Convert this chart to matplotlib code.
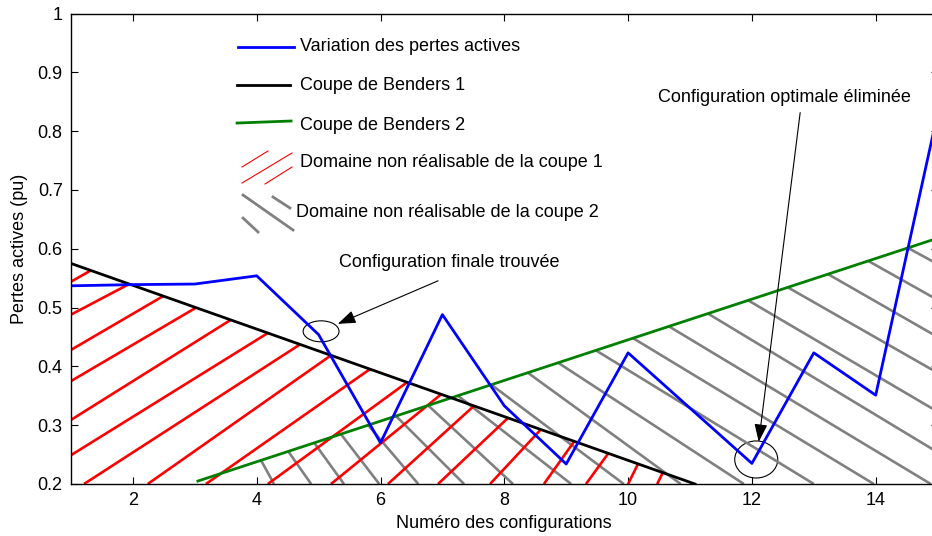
import numpy as np
import matplotlib
matplotlib.use("Agg")
import matplotlib.pyplot as plt
from matplotlib.patches import Ellipse
from matplotlib.ticker import FormatStrFormatter

plt.rcParams['font.family'] = ['Liberation Sans', 'DejaVu Sans']

# valeurs
configurations = list(range(1, 16))
pertes = [0.537, 0.539, 0.540, 0.554, 0.454, 0.270, 0.488, 0.333, 0.234,
          0.423, 0.329, 0.235, 0.423, 0.351, 0.83]

benders1_x = [1.0, 11.08]
benders1_y = [0.575, 0.200]
benders2_x = [3.05, 15.0]
benders2_y = [0.205, 0.618]

# hachures coupe 1 : bout haut sur la coupe 1, bout bas sur l'axe gauche puis sur l'axe bas
hatch1_top_x = [1.32, 1.94, 2.49, 3.02, 3.58, 4.18, 4.70, 5.20, 5.83, 6.43,
                6.98, 7.51, 8.06, 8.59, 9.13, 9.68, 10.16, 10.56]
hatch1_left_y = [0.544, 0.488, 0.428, 0.375, 0.309, 0.249]
hatch1_bottom_x = [1.21, 2.24, 3.18, 4.18, 5.20, 6.12, 6.93, 7.77, 8.64,
                   9.32, 10.0, 10.47]

# hachures coupe 2 : bout haut sur la coupe 2, bout bas sur l'axe bas puis sur le bord droit
hatch2_top_x = [4.07, 4.51, 4.93, 5.36, 5.80, 6.25, 6.77, 7.25, 7.79, 8.38,
                8.87, 9.48, 10.08, 10.66, 11.29, 11.94, 12.58, 13.23, 13.88, 14.52]
hatch2_bottom_x = [4.28, 4.88, 5.41, 5.98, 6.61, 7.35, 8.14, 9.08, 9.93,
                   10.85, 11.87, 13.0, 13.97, 14.89]
hatch2_right_y = [0.254, 0.323, 0.389, 0.450, 0.513, 0.574]

fig = plt.figure(figsize=(9.32, 5.36), dpi=100)
ax = fig.add_axes([71 / 932, 52 / 536, 866.6 / 932, 470.5 / 536])

# domaine 2 (gris)
lows2 = [(x, 0.2) for x in hatch2_bottom_x] + [(15.0, y) for y in hatch2_right_y]
for tx, (bx, by) in zip(hatch2_top_x, lows2):
    ty = np.interp(tx, benders2_x, benders2_y)
    ax.plot([tx, bx], [ty, by], color='#808080', lw=1.9, solid_capstyle='butt')

# domaine 1 (rouge)
lows1 = [(1.0, y) for y in hatch1_left_y] + [(x, 0.2) for x in hatch1_bottom_x]
for tx, (bx, by) in zip(hatch1_top_x, lows1):
    ty = np.interp(tx, benders1_x, benders1_y)
    ax.plot([tx, bx], [ty, by], color='red', lw=1.9, solid_capstyle='butt')

ax.plot(benders2_x, benders2_y, color='#007f00', lw=2)
ax.plot(benders1_x, benders1_y, color='black', lw=2)
ax.plot(configurations, pertes, color='blue', lw=2)

ax.set_xlim(1, 15)
ax.set_ylim(0.2, 1)
ax.set_xticks([2, 4, 6, 8, 10, 12, 14])
ax.set_yticks([0.2, 0.3, 0.4, 0.5, 0.6, 0.7, 0.8, 0.9, 1.0])
ax.yaxis.set_major_formatter(FormatStrFormatter('%g'))
ax.tick_params(direction='in', top=True, right=True, length=5, width=0.8,
               labelsize=13, pad=6)
for s in ax.spines.values():
    s.set_linewidth(1)
ax.set_xlabel('Numéro des configurations', fontsize=13, labelpad=4)
ax.set_ylabel('Pertes actives (pu)', fontsize=13, labelpad=7)

# légende dessinée à la main
T = ax.transAxes
ax.plot([0.1927, 0.2573], [0.9288, 0.9288], color='blue', lw=2, transform=T)
ax.plot([0.1916, 0.2527], [0.848, 0.848], color='black', lw=2, transform=T)
ax.plot([0.1916, 0.2539], [0.7672, 0.7715], color='#007f00', lw=2, transform=T)
for (x0, x1, y0, y1) in [(0.1973, 0.2273, 0.6737, 0.7078),
                         (0.1973, 0.2550, 0.6397, 0.7035),
                         (0.2239, 0.2550, 0.6376, 0.6737)]:
    ax.plot([x0, x1], [y0, y1], color='red', lw=0.8, transform=T)
for (x0, x1, y0, y1) in [(0.1985, 0.2562, 0.6142, 0.5398),
                         (0.2331, 0.2527, 0.6100, 0.5866),
                         (0.1985, 0.2158, 0.5652, 0.5356)]:
    ax.plot([x0, x1], [y0, y1], color='#808080', lw=2, transform=T)
labels = ['Variation des pertes actives', 'Coupe de Benders 1', 'Coupe de Benders 2',
          'Domaine non réalisable de la coupe 1', 'Domaine non réalisable de la coupe 2']
lab_x = [0.2643, 0.2643, 0.2643, 0.2643, 0.2596]
lab_y = [0.9288, 0.848, 0.7609, 0.6823, 0.5760]
for t, x, y in zip(labels, lab_x, lab_y):
    ax.text(x, y, t, transform=T, fontsize=13, va='center', ha='left')

# annotations
ax.add_patch(Ellipse((5.04, 0.4596), 0.58, 0.0357, fill=False, lw=0.8, color='black'))
ax.add_patch(Ellipse((12.07, 0.2417), 0.695, 0.063, fill=False, lw=0.8, color='black'))
head = dict(arrowstyle='-|>,head_length=1.1,head_width=0.4', color='black',
            lw=0.8, mutation_scale=10, shrinkA=0, shrinkB=0)
ax.annotate('', xy=(5.31, 0.4723), xytext=(6.93, 0.5455), arrowprops=head)
ax.annotate('', xy=(12.11, 0.2715), xytext=(12.78, 0.8315), arrowprops=head)
ax.text(7.11, 0.576, 'Configuration finale trouvée', fontsize=13, ha='center', va='center')
ax.text(12.52, 0.857, 'Configuration optimale éliminée', fontsize=13, ha='center', va='center')

fig.savefig('out.png', dpi=100)
